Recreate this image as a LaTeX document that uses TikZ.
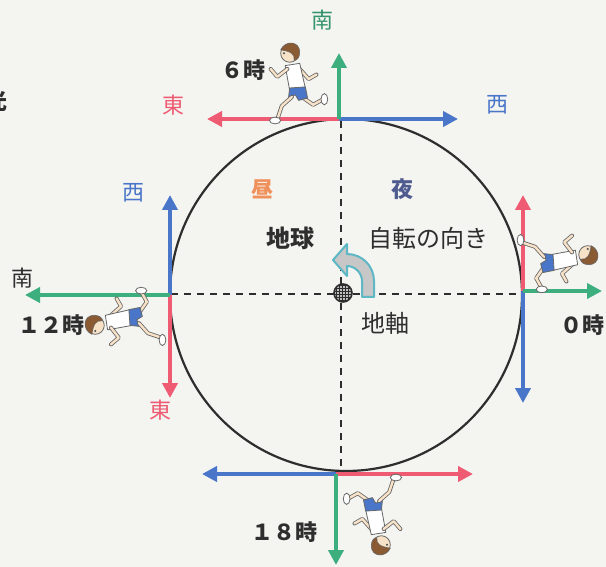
\documentclass[tikz,border=0pt]{standalone}
\usepackage{fontspec}
\setmainfont{Noto Sans CJK JP}
\usetikzlibrary{arrows.meta,patterns}

\definecolor{arrred}{HTML}{EE5B72}
\definecolor{arrblue}{HTML}{4A76C9}
\definecolor{arrgreen}{HTML}{3DAE7E}
\definecolor{paper}{HTML}{F4F4F1}
\definecolor{dayor}{HTML}{F0905A}
\definecolor{nightbl}{HTML}{4E5B8E}
\definecolor{axcyan}{HTML}{5DB7C5}
\definecolor{skin}{HTML}{F7E2C8}
\definecolor{hair}{HTML}{8A5A33}
\definecolor{ink}{HTML}{2E2E2E}

\tikzset{
  x=1pt, y=-1pt,
  dirarrow/.style={line width=4pt, -{Triangle[length=15pt,width=15pt]}},
  axisdash/.style={line width=1.8pt, dash pattern=on 7pt off 6pt, ink},
  label/.style={font=\fontsize{22}{22}\selectfont, inner sep=0pt},
  boldlabel/.style={font=\fontsize{22}{22}\selectfont\bfseries, inner sep=0pt, text=ink},
  biglabel/.style={font=\fontsize{24}{24}\selectfont, inner sep=0pt, text=ink},
  limb/.style={draw=black!60, double=skin, double distance=2.4pt, line width=0.8pt,
               line cap=round, line join=round},
  runner/.pic={
    % back leg and back arm
    \draw[limb] (8,8) -- (18,15) -- (27,10);
    \draw[limb] (6,-17) -- (14,-8) -- (21,-12);
    % shirt
    \filldraw[fill=white, draw=black!60, line width=0.8pt, line join=round]
      (-7,-20) -- (6,-22) -- (11,0) -- (-3,2) -- cycle;
    % shorts
    \filldraw[fill=arrblue, draw=black!60, line width=0.8pt, line join=round]
      (-3,0) -- (11,-1) -- (13,9) -- (5,11) -- (2,6) -- (-4,9) -- cycle;
    % front leg and front arm
    \draw[limb] (-1,8) -- (-10,16) -- (-14,28);
    \filldraw[fill=white, draw=black!60, line width=0.8pt] (-16,29) ellipse[x radius=5pt, y radius=3pt];
    \filldraw[fill=white, draw=black!60, line width=0.8pt] (28,10) ellipse[x radius=3pt, y radius=5pt];
    \draw[limb] (-5,-17) -- (-14,-10) -- (-20,-17);
    % head and hair
    \filldraw[fill=skin, draw=black!60, line width=0.8pt] (-3,-31) circle[radius=8pt];
    \filldraw[fill=hair, draw=black!60, line width=0.6pt]
      (-11,-34) .. controls (-7,-43) and (6,-42) .. (6,-32)
      .. controls (6,-27) and (3,-24) .. (1,-25)
      .. controls (2,-30) and (-2,-33) .. (-11,-34) -- cycle;
    \fill[black!70] (-8,-31) circle[radius=1pt];
  }
}

\begin{document}
\begin{tikzpicture}
  % paper
  \fill[paper] (0,0) rectangle (606,567);
  \useasboundingbox (0,0) rectangle (606,567);

  % the Earth
  \node[circle, draw=ink, line width=2.2pt, minimum size=352pt, inner sep=0pt] (earth) at (346,295) {};

  % day/night and terminator lines
  \coordinate (vtop) at (341,121);
  \coordinate (vbot) at (341,470);
  \coordinate (hleft) at (171,294);
  \coordinate (hright) at (521,294);
  \draw[axisdash] (vtop) -- (vbot);
  \draw[axisdash] (hleft) -- (hright);

  % rotation arrow around the axis
  \filldraw[fill=black!22, draw=axcyan, line width=2pt, line join=round]
    (362,297) -- (374,297) -- (374,281)
    .. controls (374,266) and (362,254) .. (347,254)
    -- (347,244) -- (333,260) -- (347,276) -- (347,266)
    .. controls (355,266) and (362,273) .. (362,281) -- cycle;

  % the axis seen end-on
  \node[circle, draw=ink, line width=1.6pt, minimum size=18pt, inner sep=0pt,
        preaction={fill=black!25}, pattern=grid, pattern color=ink] (pole) at (343,293) {};

  % direction arrows at 6 o'clock position (top)
  \coordinate (T) at (339,119);
  \coordinate (Ts) at (339,53);
  \coordinate (Te) at (207,119);
  \coordinate (Tw) at (458,119);
  \draw[dirarrow, arrred] (T) -- (Te);
  \draw[dirarrow, arrblue] (T) -- (Tw);
  \draw[dirarrow, arrgreen] (T) -- (Ts);

  % 12 o'clock (left)
  \coordinate (L) at (170,295);
  \coordinate (Ls) at (25,295);
  \coordinate (Lw) at (170,195);
  \coordinate (Le) at (170,398);
  \draw[dirarrow, arrblue] (L) -- (Lw);
  \draw[dirarrow, arrred] (L) -- (Le);
  \draw[dirarrow, arrgreen] (L) -- (Ls);

  % 0 o'clock (right)
  \coordinate (R) at (523,291);
  \coordinate (Rs) at (602,291);
  \coordinate (Re) at (523,195);
  \coordinate (Rw) at (523,403);
  \draw[dirarrow, arrred] (R) -- (Re);
  \draw[dirarrow, arrblue] (R) -- (Rw);
  \draw[dirarrow, arrgreen] (R) -- (Rs);

  % 18 o'clock (bottom)
  \coordinate (B) at (336,474);
  \coordinate (Bs) at (336,565);
  \coordinate (Bw) at (202,474);
  \coordinate (Be) at (473,474);
  \draw[dirarrow, arrblue] (B) -- (Bw);
  \draw[dirarrow, arrred] (B) -- (Be);
  \draw[dirarrow, arrgreen] (B) -- (Bs);

  % runners standing on the Earth
  \pic[scale=1.12] at (293,88) {runner};
  \pic[rotate=90, scale=1.12] at (130,322) {runner};
  \pic[rotate=-90, scale=1.12] at (553,258) {runner};
  \pic[rotate=180, scale=1.12] at (378,510) {runner};

  % direction labels
  \node[label, text=arrgreen!85!black] (lTs) at (322,20) {南};
  \node[label, text=arrred] (lTe) at (173,105) {東};
  \node[label, text=arrblue] (lTw) at (497,105) {西};
  \node[label, text=arrblue] (lLw) at (133,193) {西};
  \node[label, text=ink] (lLs) at (22,278) {南};
  \node[label, text=arrred] (lLe) at (160,410) {東};

  % times of day
  \node[boldlabel] (t6) at (243,70) {６時};
  \node[boldlabel] (t12) at (52,325) {１２時};
  \node[boldlabel] (t0) at (582,325) {０時};
  \node[boldlabel] (t18) at (284,532) {１８時};

  % inside the Earth
  \node[boldlabel, text=dayor] (day) at (262,189) {昼};
  \node[boldlabel, text=nightbl] (night) at (402,189) {夜};
  \node[boldlabel, font=\fontsize{24}{24}\selectfont\bfseries] (earthname) at (290,238) {地球};
  \node[biglabel] (spin) at (428,238) {自転の向き};
  \node[biglabel] (axis) at (385,323) {地軸};

  % heading cut at the margin
  \node[boldlabel] (light) at (-3,101) {光};
\end{tikzpicture}
\end{document}
